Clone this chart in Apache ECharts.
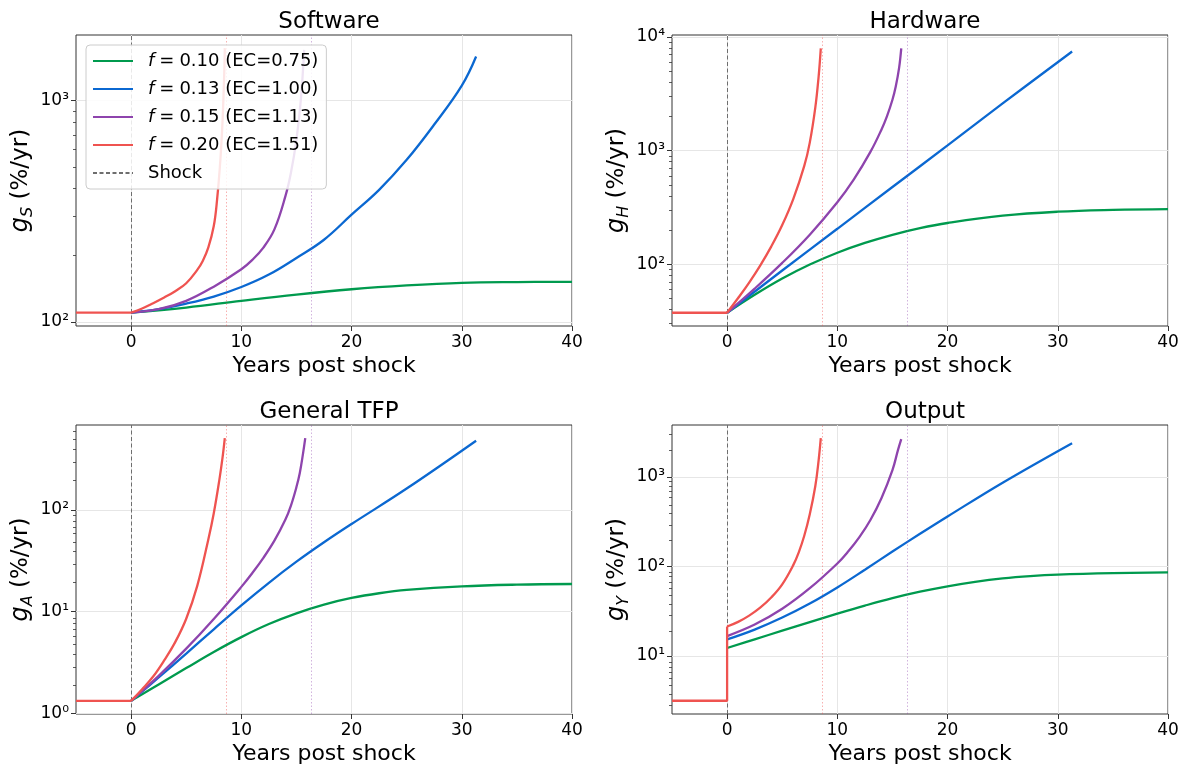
<!DOCTYPE html>
<html>
<head>
<meta charset="utf-8">
<script src="https://cdn.jsdelivr.net/npm/echarts@6/dist/echarts.min.js"></script>
<style>
  html, body { margin: 0; padding: 0; background: #fff; }
  #chart { width: 1185px; height: 766px; }
</style>
</head>
<body>
<div id="chart"></div>
<script>
const names = ['f = 0.10 (EC=0.75)', 'f = 0.13 (EC=1.00)', 'f = 0.15 (EC=1.13)', 'f = 0.20 (EC=1.51)'];
const colors = ['#009a4e', '#0b68d1', '#8e44ad', '#ef5350'];
const shockYear = 0;
const redBlowup = 8.6;
const purpleBlowup = 16.3;
const xTicks = [0, 10, 20, 30, 40];

// Software growth g_S (%/yr)
const softPre = [[-5, 110], [0, 110]];
const softF10 = [[0, 110], [5, 116], [10, 124.4], [15, 132.8], [20, 140.3], [25, 146], [30, 150], [35, 151.2], [40, 151.5]];
const softF13 = [[0, 110], [2.5, 114], [5, 120.8], [7.5, 130], [10, 143.6], [12.5, 163.5], [15, 194.4], [17.5, 235], [20, 305], [22.5, 395], [25, 540], [27.5, 780], [30, 1170], [31.3, 1585]];
const softF15 = [[0, 110], [2.5, 114], [5, 124.4], [7.5, 144.2], [10, 172.9], [11, 190.6], [12, 216.5], [13, 261.7], [14, 370], [14.5, 472], [15, 667], [15.4, 1010], [15.7, 1698]];
const softF20 = [[0, 110], [1, 114.9], [2, 121.4], [3, 128.8], [4, 137.5], [5, 149.4], [6, 171.6], [6.5, 188.4], [7, 216.4], [7.5, 271], [7.8, 357], [8.1, 542], [8.3, 821], [8.45, 1334], [8.5, 1729]];

// Hardware growth g_H
const hardPre = [[-5, 37.4], [0, 37.4]];
const hardF10 = [[0, 37.4], [2.5, 53.8], [5, 74.8], [7.5, 99.3], [10, 126.2], [12.5, 153.9], [15, 181.5], [17.5, 207.7], [20, 230.5], [25, 267.3], [30, 289.8], [35, 300.7], [40, 305.5]];
const hardF13 = [[0, 37.4], [5, 88], [10, 205], [15, 478], [20, 1110], [25, 2600], [31.3, 7450]];
const hardF15 = [[0, 37.4], [2.5, 61], [5, 102.7], [7.5, 182], [10, 351], [11.5, 558], [13, 973], [14, 1528], [14.5, 2000], [15, 2800], [15.3, 3664], [15.6, 5308], [15.8, 7943]];
const hardF20 = [[0, 37.4], [1, 50.4], [2, 69], [3, 97.3], [4, 142.9], [5, 221], [6, 374], [7, 733], [7.5, 1175], [8, 2383], [8.3, 4457], [8.5, 7943]];

// General TFP growth g_A
const tfpPre = [[-5, 1.32], [0, 1.32]];
const tfpF10 = [[0, 1.32], [2.5, 1.916], [5, 2.775], [7.5, 4.0], [10, 5.6], [12.5, 7.53], [15, 9.6], [17.5, 11.7], [20, 13.6], [22.5, 15.14], [25, 16.32], [30, 17.7], [35, 18.4], [40, 18.67]];
const tfpF13 = [[0, 1.32], [2.5, 2.242], [5, 3.855], [7.5, 6.69], [10, 11.5], [12.5, 19.2], [15, 30.97], [17.5, 48.1], [20, 72.8], [25, 162.6], [31.3, 481]];
const tfpF15 = [[0, 1.32], [2.5, 2.327], [5, 4.31], [7.5, 8.45], [10, 17.5], [11, 24.0], [12, 33.8], [13, 49.9], [14, 80.5], [14.5, 110.6], [15, 168.2], [15.3, 230], [15.6, 360.7], [15.8, 510]];
const tfpF20 = [[0, 1.32], [1, 1.72], [2, 2.29], [3, 3.3], [4, 5.0], [5, 8.5], [6, 17.9], [7, 51], [7.5, 93], [8, 196], [8.3, 331], [8.5, 510]];

// Output growth g_Y
const outPre = [[-5, 3.15], [0, 3.15], [0, 21.3]];
const outF10 = [[0, 12.26], [2.5, 15.32], [5, 19.15], [7.5, 23.9], [10, 29.7], [12.5, 36.5], [15, 44.2], [17.5, 52.2], [20, 60.0], [22.5, 67.3], [25, 73.5], [27.5, 78.0], [30, 81.0], [35, 84.2], [40, 86]];
const outF13 = [[0, 15.29], [2.5, 19.7], [5, 26.85], [7.5, 38.5], [10, 58.3], [12.5, 92], [15, 146.9], [17.5, 231.9], [20, 362.3], [25, 865], [31.3, 2393]];
const outF15 = [[0, 16.65], [2.5, 22.4], [5, 33.6], [7.5, 57.1], [10, 108], [11, 147.8], [12, 213], [13, 331], [14, 580], [15, 1195], [15.5, 2000], [15.8, 2655]];
const outF20 = [[0, 21.3], [1, 24.0], [2, 28.2], [3, 34.6], [4, 45], [5, 63.2], [6, 103.5], [6.5, 144.1], [7, 220.5], [7.5, 382.8], [8, 788], [8.3, 1529], [8.5, 2723]];

const panels = [
  { title: 'Software', sub: 'S', yMin: 95.7, yMax: 1982, majors: [100, 1000], pre: softPre, lines: [softF10, softF13, softF15, softF20], left: 76, top: 35, height: 291 },
  { title: 'Hardware', sub: 'H', yMin: 28.6, yMax: 10400, majors: [100, 1000, 10000], pre: hardPre, lines: [hardF10, hardF13, hardF15, hardF20], left: 672, top: 35, height: 291 },
  { title: 'General TFP', sub: 'A', yMin: 0.98, yMax: 687, majors: [1, 10, 100], pre: tfpPre, lines: [tfpF10, tfpF13, tfpF15, tfpF20], left: 76, top: 425, height: 292 },
  { title: 'Output', sub: 'Y', yMin: 2.24, yMax: 3820, majors: [10, 100, 1000], pre: outPre, lines: [outF10, outF13, outF15, outF20], left: 672, top: 425, height: 292 }
];

const FONT = 'DejaVu Sans';
const supDigits = { '0': '\u2070', '1': '\u00b9', '2': '\u00b2', '3': '\u00b3', '4': '\u2074' };

function minorTicks(min, max) {
  const out = [];
  for (let e = Math.floor(Math.log10(min)); e <= Math.ceil(Math.log10(max)); e++) {
    for (let k = 2; k <= 9; k++) {
      const v = k * Math.pow(10, e);
      if (v > min && v < max) out.push(v);
    }
  }
  return out;
}

function blowLine(x, color) {
  return {
    silent: true, symbol: 'none', label: { show: false },
    lineStyle: { color: color, width: 1, type: [1.5, 2] },
    data: [{ xAxis: x }]
  };
}

const grids = [], xAxes = [], yAxes = [], series = [], titles = [];
const W = 496;

panels.forEach((p, i) => {
  grids.push({ left: p.left, top: p.top, width: W, height: p.height, show: true, borderColor: '#333', borderWidth: 1, backgroundColor: 'transparent' });
  titles.push({ text: p.title, left: p.left + W / 2, top: p.top - 29, textAlign: 'center', textStyle: { fontFamily: FONT, fontSize: 23, fontWeight: 'normal', color: '#000' } });
  xAxes.push({
    type: 'value', gridIndex: i, min: -5, max: 40,
    name: 'Years post shock', nameLocation: 'middle', nameGap: 29,
    nameTextStyle: { fontFamily: FONT, fontSize: 22, color: '#000' },
    axisLine: { show: false, onZero: false },
    axisTick: { show: true, customValues: xTicks, length: 5, lineStyle: { color: '#333' } },
    axisLabel: { customValues: xTicks, fontFamily: FONT, fontSize: 17, color: '#000', margin: 8 },
    splitLine: { show: true, lineStyle: { color: '#e6e6e6', width: 1 } }
  });
  yAxes.push({
    type: 'log', logBase: 10, gridIndex: i, min: p.yMin, max: p.yMax,
    name: '{g|g}{s|' + p.sub + '}{t| (%/yr)}', nameLocation: 'middle', nameRotate: 90, nameGap: 40,
    nameTextStyle: {
      rich: {
        g: { fontFamily: FONT, fontSize: 24, fontStyle: 'italic', color: '#000', lineHeight: 30 },
        s: { fontFamily: FONT, fontSize: 16, fontStyle: 'italic', color: '#000', lineHeight: 17, verticalAlign: 'bottom' },
        t: { fontFamily: FONT, fontSize: 23, color: '#000', lineHeight: 30 }
      }
    },
    axisLine: { show: false, onZero: false },
    axisTick: { show: true, customValues: p.majors, length: 5, lineStyle: { color: '#333' } },
    axisLabel: {
      customValues: p.majors, fontFamily: FONT, fontSize: 17, color: '#000', margin: 7,
      formatter: v => '10' + supDigits[String(Math.round(Math.log10(v)))]
    },
    splitLine: { show: true, lineStyle: { color: '#e6e6e6', width: 1 } }
  });

  p.lines.forEach((d, j) => {
    series.push({
      name: names[j], type: 'line', xAxisIndex: i, yAxisIndex: i, data: d,
      smooth: 0.4, symbol: 'none', showSymbol: false, z: 3 + j,
      lineStyle: { color: colors[j], width: 2.3 }, itemStyle: { color: colors[j] },
      emphasis: { disabled: true },
      markLine: j === 3 ? blowLine(redBlowup, 'rgba(239,83,80,0.45)') : (j === 2 ? blowLine(purpleBlowup, 'rgba(142,68,173,0.4)') : undefined)
    });
  });
  series.push({
    name: 'pre', type: 'line', xAxisIndex: i, yAxisIndex: i, data: p.pre,
    symbol: 'none', z: 7, lineStyle: { color: colors[3], width: 2.3 }, emphasis: { disabled: true }
  });
  series.push({
    name: 'Shock', type: 'line', xAxisIndex: i, yAxisIndex: i, data: [],
    symbol: 'none', z: 2, lineStyle: { color: '#6e6e6e', width: 1, type: [4, 2.5] }, itemStyle: { color: '#6e6e6e' },
    markLine: {
      silent: true, symbol: 'none', label: { show: false },
      lineStyle: { color: '#6e6e6e', width: 1, type: [4, 2.5] },
      data: [{ xAxis: shockYear }]
    }
  });
});

// overlay grids carrying the minor log ticks
panels.forEach((p, i) => {
  grids.push({ left: p.left, top: p.top, width: W, height: p.height, show: false });
  xAxes.push({ type: 'value', gridIndex: 4 + i, min: -5, max: 40, show: false });
  yAxes.push({
    type: 'log', logBase: 10, gridIndex: 4 + i, min: p.yMin, max: p.yMax,
    axisLine: { show: false, onZero: false }, axisLabel: { show: false }, splitLine: { show: false },
    axisTick: { show: true, customValues: minorTicks(p.yMin, p.yMax), length: 3, lineStyle: { color: '#333', width: 0.8 } }
  });
});

const chart = echarts.init(document.getElementById('chart'), null, { renderer: 'canvas' });
chart.setOption({
  animation: false,
  backgroundColor: '#fff',
  title: titles,
  grid: grids,
  xAxis: xAxes,
  yAxis: yAxes,
  legend: {
    data: names.concat(['Shock']),
    orient: 'vertical', left: 86, top: 45,
    padding: [6, 8, 6, 6], itemWidth: 40, itemHeight: 14, itemGap: 8,
    backgroundColor: 'rgba(255,255,255,0.85)', borderColor: '#cccccc', borderWidth: 1, borderRadius: 4,
    z: 10,
    itemStyle: { opacity: 0 },
    formatter: n => n.charAt(0) === 'f'
      ? '{p|}{i|f}{e|=}{r|' + n.slice(3).trim() + '}'
      : '{p|}{r|' + n + '}',
    textStyle: {
      fontFamily: FONT, fontSize: 18, color: '#000', lineHeight: 20,
      rich: {
        p: { width: 10, lineHeight: 20 },
        i: { fontFamily: FONT, fontSize: 18, fontStyle: 'italic', color: '#000', lineHeight: 20 },
        e: { fontFamily: FONT, fontSize: 18, color: '#000', lineHeight: 20, padding: [0, 5, 0, 5] },
        r: { fontFamily: FONT, fontSize: 18, color: '#000', lineHeight: 20 }
      }
    }
  },
  series: series
});
</script>
</body>
</html>
